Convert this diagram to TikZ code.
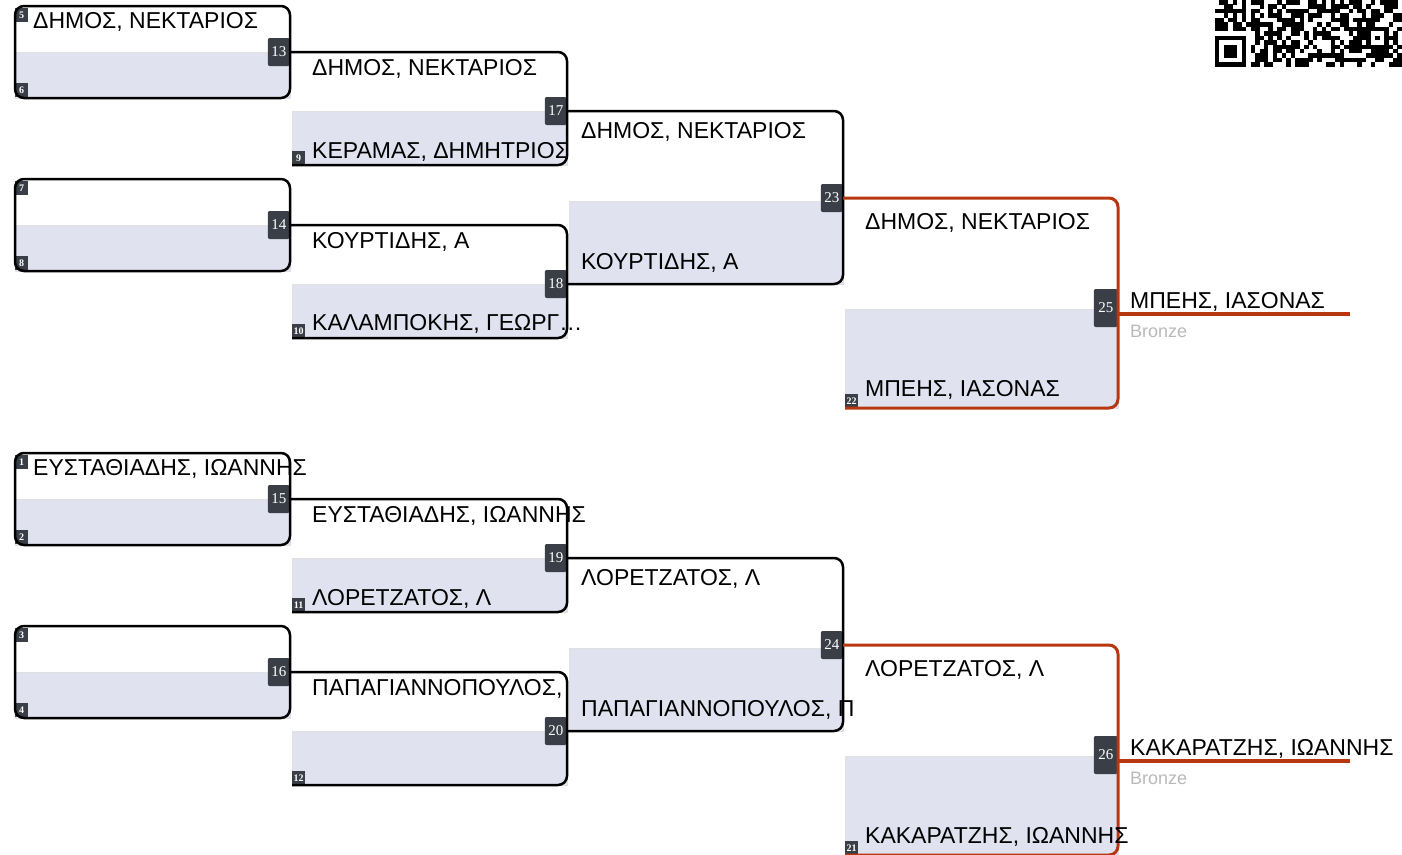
\documentclass[tikz,border=0pt]{standalone}
\usepackage{fontspec}
\setmainfont{Liberation Sans}
\newfontfamily\badgefont{Liberation Serif}
\usetikzlibrary{positioning}
\definecolor{lavender}{RGB}{224,226,240}
\definecolor{badgegray}{RGB}{58,62,70}
\definecolor{rust}{RGB}{183,56,16}
\definecolor{bronzegray}{RGB}{185,185,185}

\begin{document}
\begin{tikzpicture}[x=1pt,y=-1pt]
\tikzset{
  matchbox/.style={line width=2.5pt,rounded corners=9pt},
  bracket/.style={line width=2.5pt,rounded corners=9pt},
  finalbracket/.style={bracket,draw=rust,line width=3pt},
  lowerhalf/.style={fill=lavender,draw=black!12,line width=0.6pt},
  matchno/.style={fill=badgegray,text=white,rounded corners=2pt,anchor=east,minimum width=22pt,minimum height=28pt,inner sep=0pt,font=\badgefont\fontsize{15}{15}\selectfont},
  finalno/.style={matchno,minimum width=24pt,minimum height=38pt},
  seedno/.style={fill=badgegray,text=white,minimum width=13pt,minimum height=14pt,inner sep=0pt,font=\badgefont\bfseries\fontsize{10}{10}\selectfont},
  player/.style={anchor=base west,inner sep=0pt,font=\fontsize{23}{25}\selectfont},
  medal/.style={anchor=base west,inner sep=0pt,text=bronzegray,font=\fontsize{18}{19}\selectfont}
}
\useasboundingbox (0,0) rectangle (1402,854);

\fill[lowerhalf] (15,52) rectangle (290,98);
\fill[lowerhalf] (15,225) rectangle (290,271);
\fill[lowerhalf] (292,111) rectangle (567,165);
\fill[lowerhalf] (292,284) rectangle (567,338);
\fill[lowerhalf] (569,201) rectangle (843,284);
\fill[lowerhalf] (845,309) rectangle (1118,408);
\fill[lowerhalf] (15,499) rectangle (290,545);
\fill[lowerhalf] (15,672) rectangle (290,718);
\fill[lowerhalf] (292,558) rectangle (567,612);
\fill[lowerhalf] (292,731) rectangle (567,785);
\fill[lowerhalf] (569,648) rectangle (843,731);
\fill[lowerhalf] (845,756) rectangle (1118,855);

\node[seedno,anchor=north west] (n_s_5) at (15,8) {5};
\node[seedno,anchor=south west] (n_s_6) at (15,97) {6};
\node[seedno,anchor=north west] (n_s_7) at (15,181) {7};
\node[seedno,anchor=south west] (n_s_8) at (15,270) {8};
\node[seedno,anchor=south west] (n_s_9) at (292,165) {9};
\node[seedno,anchor=south west] (n_s_10) at (292,338) {10};
\node[seedno,anchor=south west] (n_s_22) at (845,408) {22};
\node[seedno,anchor=north west] (n_s_1) at (15,455) {1};
\node[seedno,anchor=south west] (n_s_2) at (15,544) {2};
\node[seedno,anchor=north west] (n_s_3) at (15,628) {3};
\node[seedno,anchor=south west] (n_s_4) at (15,717) {4};
\node[seedno,anchor=south west] (n_s_11) at (292,612) {11};
\node[seedno,anchor=south west] (n_s_12) at (292,785) {12};
\node[seedno,anchor=south west] (n_s_21) at (845,855) {21};

\node[matchno] (n_m_13) at (290,52) {13};
\node[matchno] (n_m_14) at (290,225) {14};
\node[matchno] (n_m_17) at (567,111) {17};
\node[matchno] (n_m_18) at (567,284) {18};
\node[matchno] (n_m_23) at (843,198) {23};
\node[finalno] (n_m_25) at (1118,308) {25};
\node[matchno] (n_m_15) at (290,499) {15};
\node[matchno] (n_m_16) at (290,672) {16};
\node[matchno] (n_m_19) at (567,558) {19};
\node[matchno] (n_m_20) at (567,731) {20};
\node[matchno] (n_m_24) at (843,645) {24};
\node[finalno] (n_m_26) at (1118,755) {26};
\coordinate (n_w_25) at (1350,314);
\coordinate (n_w_26) at (1350,761);

\draw[matchbox] (15,6) rectangle (290,98);
\draw[matchbox] (15,179) rectangle (290,271);
\draw[matchbox] (15,453) rectangle (290,545);
\draw[matchbox] (15,626) rectangle (290,718);
\draw[bracket] (n_m_13.east) -| (n_m_17.east) |- (n_s_9.south west);
\draw[bracket] (n_m_14.east) -| (n_m_18.east) |- (n_s_10.south west);
\draw[bracket] (n_m_17.east) -| (n_m_23.east) |- (n_m_18.east);
\draw[finalbracket] (n_m_23.east) -| (n_m_25.east) |- (n_s_22.south west);
\draw[finalbracket,line width=3.5pt] ([yshift=-6pt]n_m_25.east) -- (n_w_25);
\draw[bracket] (n_m_15.east) -| (n_m_19.east) |- (n_s_11.south west);
\draw[bracket] (n_m_16.east) -| (n_m_20.east) |- (n_s_12.south west);
\draw[bracket] (n_m_19.east) -| (n_m_24.east) |- (n_m_20.east);
\draw[finalbracket] (n_m_24.east) -| (n_m_26.east) |- (n_s_21.south west);
\draw[finalbracket,line width=3.5pt] ([yshift=-6pt]n_m_26.east) -- (n_w_26);

\node[player] (n_p_13a) at (33,28) {ΔΗΜΟΣ, ΝΕΚΤΑΡΙΟΣ};
\node[player] (n_p_17a) at (312,75) {ΔΗΜΟΣ, ΝΕΚΤΑΡΙΟΣ};
\node[player] (n_p_17b) at (312,158) {ΚΕΡΑΜΑΣ, ΔΗΜΗΤΡΙΟΣ};
\node[player] (n_p_18a) at (312,248) {ΚΟΥΡΤΙΔΗΣ, Α};
\node[player] (n_p_18b) at (312,330) {ΚΑΛΑΜΠΟΚΗΣ, ΓΕΩΡΓ…};
\node[player] (n_p_23a) at (581,138) {ΔΗΜΟΣ, ΝΕΚΤΑΡΙΟΣ};
\node[player] (n_p_23b) at (581,269) {ΚΟΥΡΤΙΔΗΣ, Α};
\node[player] (n_p_25a) at (865,229) {ΔΗΜΟΣ, ΝΕΚΤΑΡΙΟΣ};
\node[player] (n_p_25b) at (865,396) {ΜΠΕΗΣ, ΙΑΣΟΝΑΣ};
\node[player] (n_p_25w) at (1130,308) {ΜΠΕΗΣ, ΙΑΣΟΝΑΣ};
\node[medal] (n_b_25) at (1130,337) {Bronze};
\node[player] (n_p_15a) at (33,475) {ΕΥΣΤΑΘΙΑΔΗΣ, ΙΩΑΝΝΗΣ};
\node[player] (n_p_19a) at (312,522) {ΕΥΣΤΑΘΙΑΔΗΣ, ΙΩΑΝΝΗΣ};
\node[player] (n_p_19b) at (312,605) {ΛΟΡΕΤΖΑΤΟΣ, Λ};
\node[player] (n_p_20a) at (312,695) {ΠΑΠΑΓΙΑΝΝΟΠΟΥΛΟΣ,};
\node[player] (n_p_24a) at (581,585) {ΛΟΡΕΤΖΑΤΟΣ, Λ};
\node[player] (n_p_24b) at (581,716) {ΠΑΠΑΓΙΑΝΝΟΠΟΥΛΟΣ, Π};
\node[player] (n_p_26a) at (865,676) {ΛΟΡΕΤΖΑΤΟΣ, Λ};
\node[player] (n_p_26b) at (865,843) {ΚΑΚΑΡΑΤΖΗΣ, ΙΩΑΝΝΗΣ};
\node[player] (n_p_26w) at (1130,755) {ΚΑΚΑΡΑΤΖΗΣ, ΙΩΑΝΝΗΣ};
\node[medal] (n_b_26) at (1130,784) {Bronze};

\pgfmathsetseed{4}
\foreach \c in {0,...,41}{
  \foreach \r in {0,...,14}{
    \pgfmathsetmacro{\qrbit}{and(rnd<0.55,or(\c>7,\r<7))}
    \ifdim\qrbit pt>0.5pt
      \fill (1215+4.45*\c,4.45*\r) rectangle ++(4.5,4.5);
    \fi
  }
}
\fill (1215,35.6) rectangle ++(31.15,31.15);
\fill[white] (1219.45,40.05) rectangle ++(22.25,22.25);
\fill (1223.9,44.5) rectangle ++(13.35,13.35);
\fill (1366.3,26.7) rectangle ++(22.25,22.25);
\fill[white] (1370.75,31.15) rectangle ++(13.35,13.35);
\fill (1375.2,35.6) rectangle ++(4.45,4.45);
\end{tikzpicture}
\end{document}
